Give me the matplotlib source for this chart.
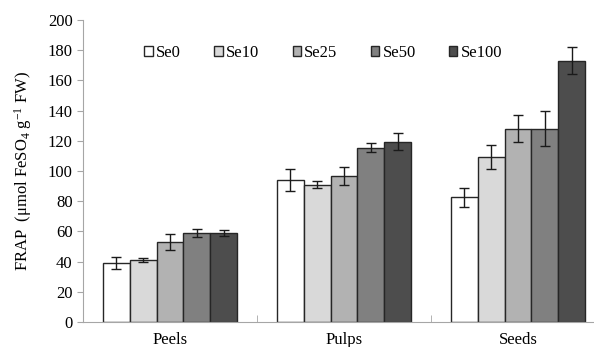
import numpy as np
import matplotlib.pyplot as plt

plt.rcParams['font.family'] = ['Liberation Serif', 'DejaVu Serif']
plt.rcParams['mathtext.fontset'] = 'custom'
plt.rcParams['mathtext.rm'] = 'Liberation Serif'
plt.rcParams['mathtext.it'] = 'Liberation Serif:italic'

categories = ['Peels', 'Pulps', 'Seeds']
series = ['Se0', 'Se10', 'Se25', 'Se50', 'Se100']
values = [
    [39, 94, 82.5],
    [41, 91, 109.5],
    [53, 96.5, 128],
    [59, 115.5, 128],
    [59, 119.5, 173],
]
errors = [
    [4, 7, 6.5],
    [1.5, 2.5, 8],
    [5, 6, 9],
    [2.5, 3, 11.5],
    [2, 5.5, 9],
]
colors = ['#ffffff', '#d9d9d9', '#b2b2b2', '#808080', '#4d4d4d']

fig = plt.figure(figsize=(5.94, 3.47), dpi=100)
ax = fig.add_axes([83 / 594, 1 - 322 / 347, 522 / 594, 302 / 347])

x = np.arange(len(categories))
w = 0.155
for i, name in enumerate(series):
    ax.bar(x + (i - 2) * w, values[i], w, yerr=errors[i], color=colors[i],
           edgecolor='#262626', linewidth=1.0, label=name,
           error_kw=dict(ecolor='#1a1a1a', elinewidth=1.0, capsize=3.5, capthick=1.0))

ax.set_xlim(-0.5, 2.5)
ax.set_ylim(0, 200)
ax.set_yticks(range(0, 201, 20))
ax.set_xticks(x)
ax.set_xticklabels(categories, fontsize=12)
ax.set_xticks([0.5, 1.5], minor=True)
ax.tick_params(axis='x', which='major', length=0, pad=7)
ax.tick_params(axis='x', which='minor', direction='in', length=5, color='#a6a6a6')
ax.tick_params(axis='y', direction='out', length=4, color='#a6a6a6', labelsize=12)
for s in ['top', 'right']:
    ax.spines[s].set_visible(False)
ax.spines['left'].set_color('#a6a6a6')
ax.spines['bottom'].set_color('#a6a6a6')
ax.set_ylabel('FRAP  (μmol FeSO$_4$ g$^{-1}$ FW)', fontsize=12, labelpad=10)

ax.legend(ncol=5, loc='upper left', bbox_to_anchor=(0.105, 0.94), frameon=False,
          prop={'family': 'Liberation Serif', 'size': 12},
          handlelength=0.5, handleheight=0.5, handletextpad=0.2,
          columnspacing=2.0, borderaxespad=0)

fig.savefig('out.png', dpi=100)
